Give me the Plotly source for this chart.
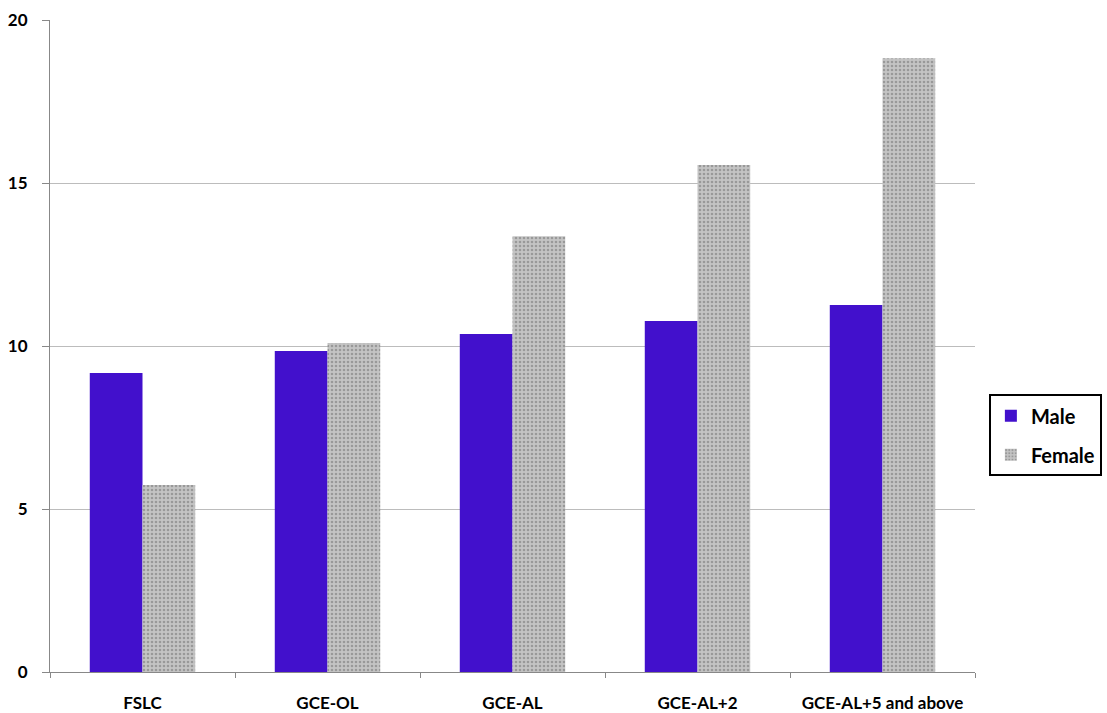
import plotly.graph_objects as go

categories = ["FSLC", "GCE-OL", "GCE-AL", "GCE-AL+2", "GCE-AL+5 and above"]
male = [9.17, 9.85, 10.37, 10.77, 11.26]
female = [5.74, 10.09, 13.37, 15.55, 18.83]

fig = go.Figure()
fig.add_trace(go.Bar(
    name="Male", x=categories, y=male, legendgroup="m",
    marker=dict(color="#4210CC", line=dict(width=0)),
))
fig.add_trace(go.Bar(
    name="Female", x=categories, y=female, legendgroup="f",
    marker=dict(color="#a8a8a8", line=dict(width=0),
                pattern=dict(shape=".", fgcolor="#6e6e6e", bgcolor="#c4c4c4",
                             size=4, solidity=0.35, fillmode="overlay")),
))

fig.update_layout(
    width=1107, height=713,
    paper_bgcolor="white", plot_bgcolor="white",
    margin=dict(l=50, r=132, t=20, b=41, autoexpand=False),
    barmode="group", bargap=0.43, bargroupgap=0,
    font=dict(family="Lato", size=16, color="black"),
    showlegend=True,
    legend=dict(
        x=1.015, y=0.363, xanchor="left", yanchor="middle",
        bordercolor="black", borderwidth=2, bgcolor="white",
        font=dict(family="Lato", size=20, color="black", weight="bold"),
        itemsizing="constant", tracegroupgap=10, traceorder="grouped",
        itemwidth=30,
    ),
    xaxis=dict(
        automargin=False,
        showline=True, linecolor="#888888", linewidth=1,
        ticks="outside", tickson="boundaries", ticklen=5, tickcolor="#888888",
        tickfont=dict(family="Lato", size=17, color="black", weight="bold"),
        ticklabelstandoff=16,
        showgrid=False,
    ),
    yaxis=dict(
        automargin=False,
        range=[0, 20], tickvals=[0, 5, 10, 15, 20],
        showline=True, linecolor="#888888", linewidth=1,
        ticks="outside", ticklen=7, tickcolor="#888888",
        showgrid=True, gridcolor="#bcbcbc", gridwidth=1,
        tickfont=dict(family="Lato", size=17, color="black", weight="bold"),
        ticklabelstandoff=11,
        zeroline=False,
    ),
)

fig.write_html("out.html")
